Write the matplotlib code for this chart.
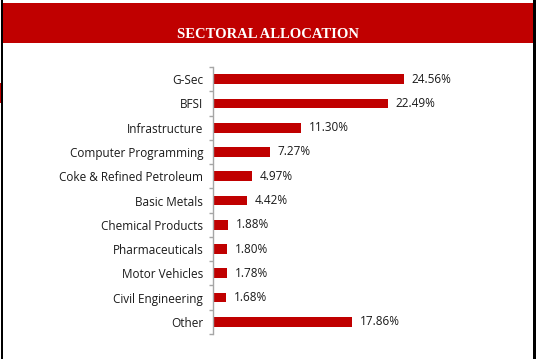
import matplotlib
matplotlib.use("Agg")
import matplotlib.pyplot as plt
from matplotlib.patches import Rectangle

# Sector weights (%)
sectors = ["G-Sec", "BFSI", "Infrastructure", "Computer Programming",
           "Coke & Refined Petroleum", "Basic Metals", "Chemical Products",
           "Pharmaceuticals", "Motor Vehicles", "Civil Engineering", "Other"]
weights = [24.56, 22.49, 11.30, 7.27, 4.97, 4.42, 1.88, 1.80, 1.78, 1.68, 17.86]
value_labels = [f"{w:.2f}%" for w in weights]
title = "SECTORAL ALLOCATION"

W, H = 548, 359
DPI = 100
RED = "#C00000"

fig = plt.figure(figsize=(W / DPI, H / DPI), dpi=DPI)
fig.patch.set_facecolor("white")

def px(x, y, w, h):
    """Convert top-left pixel box to figure fraction rect."""
    return (x / W, 1 - (y + h) / H, w / W, h / H)

# Header band and frame
bg = fig.add_axes([0, 0, 1, 1])
bg.set_xlim(0, W)
bg.set_ylim(H, 0)
bg.axis("off")
bg.add_patch(Rectangle((3, 3), 530, 40, facecolor=RED, edgecolor="none"))
bg.add_patch(Rectangle((0, 83), 1.2, 20, facecolor=RED, edgecolor="none"))
bg.add_patch(Rectangle((1.2, 0), 1.9, H, facecolor="black", edgecolor="none"))
bg.add_patch(Rectangle((533, 0), 3, H, facecolor="black", edgecolor="none"))
bg.text(268, 38, title, color="white", ha="center", va="baseline",
        fontsize=10.5, fontweight="bold", family="Liberation Serif")

# Bar chart
xmax = 30.0
ax_left, ax_top, ax_h = 213, 67, 267
ax_w = xmax * 7.78
ax = fig.add_axes(px(ax_left, ax_top, ax_w, ax_h))
ax.set_facecolor("none")

n = len(sectors)
ypos = list(range(n))
ax.barh(ypos, weights, height=0.4, color=RED, edgecolor="none")
ax.set_xlim(0, xmax)
ax.set_ylim(n - 0.5, -0.5)

for y, w, lab in zip(ypos, weights, value_labels):
    ax.text(w + 1.0, y, lab, va="center", ha="left", fontsize=8.5,
            color="#1a1a1a", family="Open Sans")

for s in ["top", "right", "bottom"]:
    ax.spines[s].set_visible(False)
ax.spines["left"].set_color("#a6a6a6")
ax.spines["left"].set_linewidth(1.0)
ax.set_xticks([])

ax.set_yticks([i - 0.5 for i in range(n + 1)], minor=False)
ax.set_yticklabels([])
ax.tick_params(axis="y", which="major", length=3, color="#a6a6a6", width=1.0)
ax.set_yticks(ypos, minor=True)
ax.set_yticklabels(sectors, minor=True, fontsize=8.5, color="#1a1a1a",
                   family="Open Sans")
ax.tick_params(axis="y", which="minor", length=0, pad=7)

fig.savefig("out.png", dpi=DPI, facecolor="white")
